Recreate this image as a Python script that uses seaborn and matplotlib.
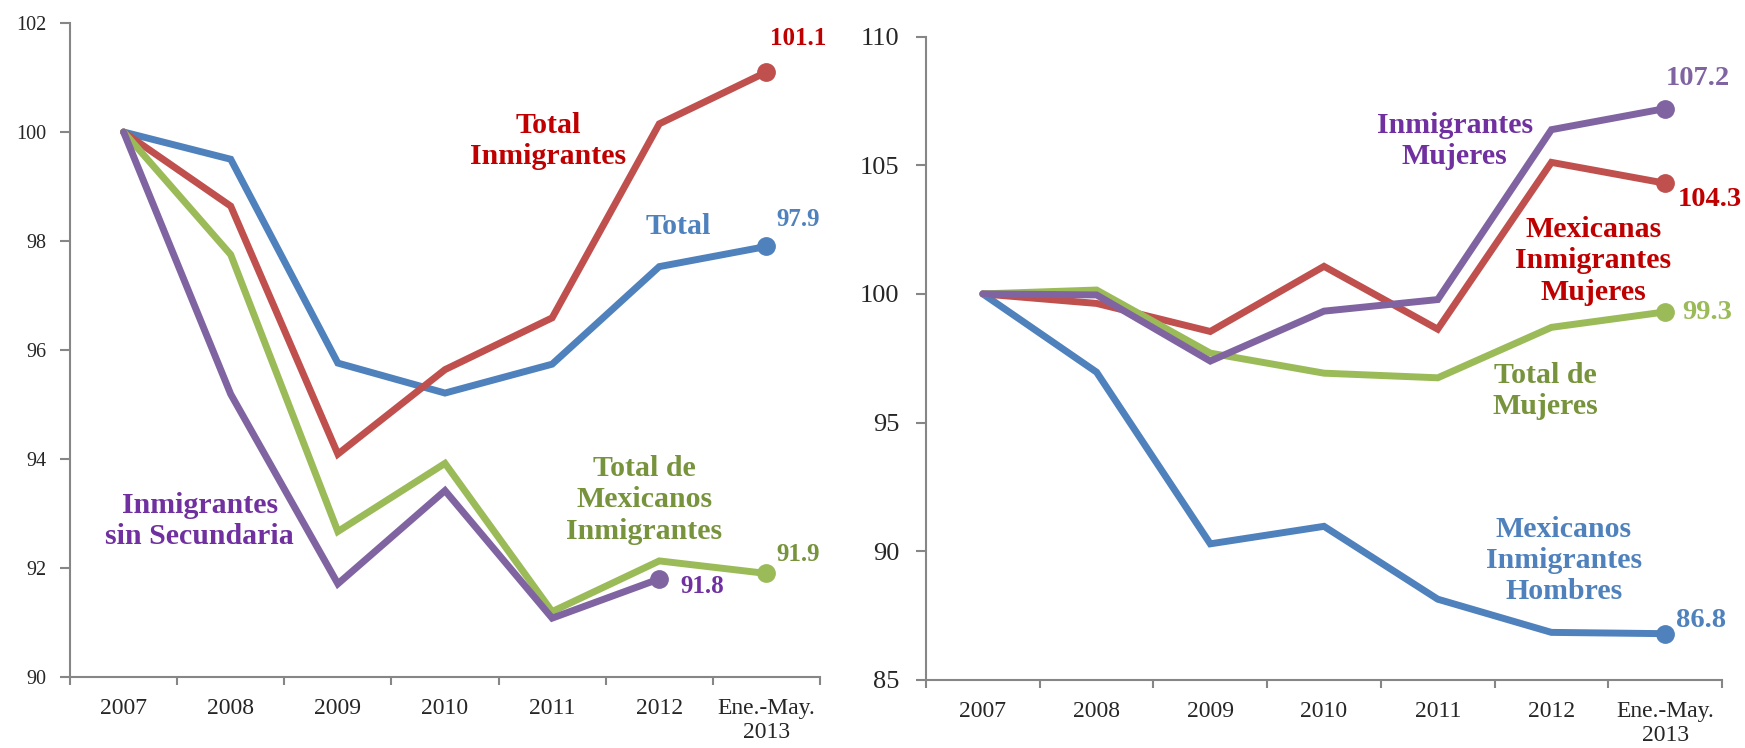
import numpy as np
import pandas as pd
import matplotlib
matplotlib.use('Agg')
import matplotlib.pyplot as plt
import seaborn as sns

sns.set_theme(style='white')
plt.rcParams['font.family'] = ['Liberation Serif', 'DejaVu Serif']

# ── Datos ──────────────────────────────────────────────────────────────────
periodos = ['2007', '2008', '2009', '2010', '2011', '2012', 'Ene.-May.\n2013']

# panel izquierdo
total = [100, 99.5, 95.76, 95.21, 95.74, 97.53, 97.9]
total_inmigrantes = [100, 98.64, 94.09, 95.64, 96.59, 100.15, 101.1]
total_mexicanos = [100, 97.75, 92.67, 93.92, 91.2, 92.13, 91.9]
sin_secundaria = [100, 95.19, 91.71, 93.42, 91.08, 91.8, np.nan]

# panel derecho
mex_hombres = [100, 96.96, 90.29, 90.97, 88.14, 86.85, 86.8]
mex_mujeres = [100, 99.63, 98.54, 101.07, 98.63, 105.11, 104.3]
total_mujeres = [100, 100.15, 97.7, 96.92, 96.74, 98.7, 99.3]
inm_mujeres = [100, 99.96, 97.39, 99.33, 99.78, 106.38, 107.2]

AZUL, ROJO, VERDE, MORADO = '#4F81BD', '#C0504D', '#9BBB59', '#8064A2'
T_ROJO, T_VERDE, T_MORADO = '#C00000', '#77933C', '#7030A0'

izq = {'Total': (total, AZUL),
       'Total Inmigrantes': (total_inmigrantes, ROJO),
       'Total de Mexicanos Inmigrantes': (total_mexicanos, VERDE),
       'Inmigrantes sin Secundaria': (sin_secundaria, MORADO)}
der = {'Mexicanos Inmigrantes Hombres': (mex_hombres, AZUL),
       'Mexicanas Inmigrantes Mujeres': (mex_mujeres, ROJO),
       'Total de Mujeres': (total_mujeres, VERDE),
       'Inmigrantes Mujeres': (inm_mujeres, MORADO)}


def largo(series):
    filas = []
    for nombre, (vals, _) in series.items():
        for i, v in enumerate(vals):
            filas.append({'pos': i, 'valor': v, 'serie': nombre})
    return pd.DataFrame(filas).dropna()


def dibujar(ax, series, ymin, ymax, paso, ytick_size, ypad):
    df = largo(series)
    pal = {k: c for k, (_, c) in series.items()}
    sns.lineplot(data=df, x='pos', y='valor', hue='serie', hue_order=list(series),
                 palette=pal, linewidth=5, legend=False, ax=ax,
                 solid_capstyle='round', solid_joinstyle='miter')
    ultimos = df.sort_values('pos').groupby('serie', sort=False).tail(1)
    for _, r in ultimos.iterrows():
        ax.plot(r['pos'], r['valor'], 'o', ms=12.5, color=pal[r['serie']], zorder=5)

    ax.set_xlim(-0.5, len(periodos) - 0.5)
    ax.set_ylim(ymin, ymax)
    ax.set_yticks(np.arange(ymin, ymax + 0.1, paso))
    ax.set_xticks(range(len(periodos)))
    ax.set_xticklabels(periodos)
    ax.set_xticks(np.arange(-0.5, len(periodos)), minor=True)
    ax.tick_params(axis='x', which='major', length=0, pad=15, labelsize=17)
    ax.tick_params(axis='x', which='minor', length=6, width=1.5,
                   color='#868686', direction='out', bottom=True)
    ax.tick_params(axis='y', length=7, width=1.5, color='#868686',
                   direction='out', left=True, pad=ypad, labelsize=ytick_size)
    ax.set_xlabel('')
    ax.set_ylabel('')
    ax.grid(False)
    for s in ['top', 'right']:
        ax.spines[s].set_visible(False)
    for s in ['left', 'bottom']:
        ax.spines[s].set_color('#868686')
        ax.spines[s].set_linewidth(1.5)


fig = plt.figure(figsize=(17.45, 7.48), dpi=100)
ax1 = fig.add_axes([70 / 1745, 1 - 677 / 748, 750 / 1745, 654 / 748])
ax2 = fig.add_axes([926 / 1745, 1 - 680 / 748, 796 / 1745, 643.5 / 748])

dibujar(ax1, izq, 90, 102, 2, 14.5, 10)
dibujar(ax2, der, 85, 110, 5, 19, 12)

kw = dict(fontweight='bold', ha='center', va='center', linespacing=1.2)
SL = 21.5

# etiquetas panel izquierdo
ax1.text(3.96, 99.83, 'Total\nInmigrantes', color=T_ROJO, fontsize=SL, **kw)
ax1.text(5.18, 98.26, 'Total', color=AZUL, fontsize=SL, **kw)
ax1.text(4.86, 93.25, 'Total de\nMexicanos\nInmigrantes', color=T_VERDE, fontsize=SL, **kw)
ax1.text(0.71, 92.86, 'Inmigrantes\nsin Secundaria', color=T_MORADO, fontsize=SL, **kw)
ax1.text(6.3, 101.72, '101.1', color=T_ROJO, fontsize=18, **kw)
ax1.text(6.3, 98.39, '97.9', color=AZUL, fontsize=18, **kw)
ax1.text(6.3, 92.24, '91.9', color=T_VERDE, fontsize=18, **kw)
ax1.text(5.40, 91.66, '91.8', color=T_MORADO, fontsize=18, **kw)

# etiquetas panel derecho
ax2.text(4.15, 105.95, 'Inmigrantes\nMujeres', color=T_MORADO, fontsize=SL, **kw)
ax2.text(5.37, 101.28, 'Mexicanas\nInmigrantes\nMujeres', color=T_ROJO, fontsize=SL, **kw)
ax2.text(4.95, 96.22, 'Total de\nMujeres', color=T_VERDE, fontsize=SL, **kw)
ax2.text(5.11, 89.64, 'Mexicanos\nInmigrantes\nHombres', color=AZUL, fontsize=SL, **kw)
ax2.text(6.29, 108.36, '107.2', color=MORADO, fontsize=20.5, **kw)
ax2.text(6.39, 103.67, '104.3', color=T_ROJO, fontsize=20.5, **kw)
ax2.text(6.37, 99.28, '99.3', color=VERDE, fontsize=20.5, **kw)
ax2.text(6.32, 87.32, '86.8', color=AZUL, fontsize=20.5, **kw)

plt.savefig('out.png', dpi=100)
plt.close()
